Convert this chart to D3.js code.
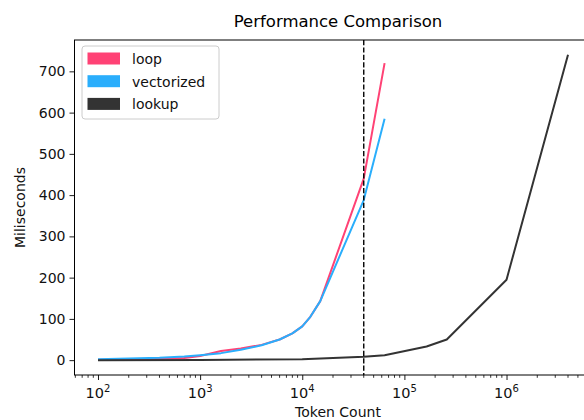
<!DOCTYPE html>
<html>
<head>
<meta charset="utf-8">
<script src="https://cdn.jsdelivr.net/npm/d3@7"></script>
<style>
  body { margin: 0; background: #fff; }
  svg { font-family: "DejaVu Sans", sans-serif; }
</style>
</head>
<body>
<svg id="chart" width="584" height="420"></svg>
<script>
// token counts and timings
const loopTokens = [100, 200, 400, 700, 1000, 1600, 2500, 4000, 6000, 8000, 10000, 12000, 15000, 40000, 64000]
const loopMs     = [1, 2, 3, 5, 10, 22, 28, 37, 50, 65, 82, 105, 143, 440, 720]

const vecTokens = [100, 200, 400, 700, 1000, 1600, 2500, 4000, 6000, 8000, 10000, 12000, 15000, 40000, 64000]
const vecMs     = [2, 4, 6, 9, 12, 17, 25, 36, 50, 65, 82, 105, 143, 388, 585]

const lookupTokens = [100, 1000, 10000, 40000, 64000, 165000, 260000, 1000000, 4000000]
const lookupMs     = [0, 0.5, 2, 8, 12, 33, 50, 195, 740]

const seriesNames = ['loop', 'vectorized', 'lookup']
const seriesColors = ['#ff4275', '#2aaefc', '#333333']
const yTicks = [0, 100, 200, 300, 400, 500, 600, 700]
const xMajor = [100, 1000, 10000, 100000, 1000000]
const cutoff = 40000

const svg = d3.select('#chart')
const mLeft = 74.5, mRight = 591.5, mTop = 40, mBottom = 375

const x = d3.scaleLog()
    .domain([Math.pow(10, 1.77), Math.pow(10, 6.832)])
    .range([mLeft, mRight])
const y = d3.scaleLinear()
    .domain([-36, 776])
    .range([mBottom, mTop])

const series = [
    {name: seriesNames[0], color: seriesColors[0], pts: loopTokens.map((t, i) => [t, loopMs[i]])},
    {name: seriesNames[1], color: seriesColors[1], pts: vecTokens.map((t, i) => [t, vecMs[i]])},
    {name: seriesNames[2], color: seriesColors[2], pts: lookupTokens.map((t, i) => [t, lookupMs[i]])}
]

svg.append('clipPath').attr('id', 'clip')
    .append('rect').attr('x', mLeft).attr('y', mTop).attr('width', mRight - mLeft).attr('height', mBottom - mTop)

const line = d3.line().x(d => x(d[0])).y(d => y(d[1]))

const plot = svg.append('g').attr('clip-path', 'url(#clip)')
series.forEach(s => {
    plot.append('path')
        .datum(s.pts)
        .attr('d', line)
        .attr('fill', 'none')
        .attr('stroke', s.color)
        .attr('stroke-width', 2)
        .attr('stroke-linejoin', 'round')
})

// cutoff marker
plot.append('line')
    .attr('x1', x(cutoff)).attr('x2', x(cutoff))
    .attr('y1', mTop).attr('y2', mBottom)
    .attr('stroke', '#000')
    .attr('stroke-width', 1.4)
    .attr('stroke-dasharray', '5.2,2.2')

// x axis (log, with minor ticks)
const xAxis = d3.axisBottom(x)
    .tickValues(xMajor)
    .tickFormat('')
    .tickSize(5)
const xg = svg.append('g').attr('transform', `translate(0,${mBottom})`).call(xAxis)
xg.select('.domain').remove()

const minor = []
for (let e = 1; e <= 6; e++) {
    for (let m = 2; m <= 9; m++) {
        const v = m * Math.pow(10, e)
        if (v >= x.domain()[0] && v <= x.domain()[1]) minor.push(v)
    }
}
xg.selectAll('.minor')
    .data(minor)
    .enter().append('line')
    .attr('class', 'minor')
    .attr('x1', d => x(d)).attr('x2', d => x(d))
    .attr('y1', 0).attr('y2', 2.8)
    .attr('stroke', '#000')
    .attr('stroke-width', 0.8)
xg.selectAll('.tick line').attr('stroke-width', 0.9)

const xl = svg.append('g')
xMajor.forEach(v => {
    const t = xl.append('text')
        .attr('x', x(v))
        .attr('y', mBottom + 23)
        .attr('text-anchor', 'middle')
        .attr('font-size', 14.5)
        .attr('fill', '#111')
    t.append('tspan').text('10')
    t.append('tspan').attr('font-size', 10).attr('dy', -6).text(Math.round(Math.log10(v)))
})

// y axis
const yAxis = d3.axisLeft(y).tickValues(yTicks).tickSize(5).tickPadding(4)
const yg = svg.append('g').attr('transform', `translate(${mLeft},0)`).call(yAxis)
yg.select('.domain').remove()
yg.selectAll('.tick text')
    .attr('font-size', 14)
    .attr('font-family', '"DejaVu Sans", sans-serif')
    .attr('fill', '#111')
yg.selectAll('.tick line').attr('stroke-width', 0.9)

// spines
svg.append('rect')
    .attr('x', mLeft).attr('y', mTop)
    .attr('width', mRight - mLeft).attr('height', mBottom - mTop)
    .attr('fill', 'none')
    .attr('stroke', '#000')
    .attr('stroke-width', 1)

// titles
svg.append('text')
    .attr('x', (mLeft + mRight) / 2 + 5)
    .attr('y', 27)
    .attr('text-anchor', 'middle')
    .attr('font-size', 16.5)
    .attr('fill', '#000')
    .text('Performance Comparison')

svg.append('text')
    .attr('x', (mLeft + mRight) / 2 + 5)
    .attr('y', 417)
    .attr('text-anchor', 'middle')
    .attr('font-size', 14)
    .attr('fill', '#111')
    .text('Token Count')

svg.append('text')
    .attr('transform', `translate(25,${(mTop + mBottom) / 2}) rotate(-90)`)
    .attr('text-anchor', 'middle')
    .attr('font-size', 14)
    .attr('fill', '#111')
    .text('Miliseconds')

// legend
const lg = svg.append('g').attr('transform', 'translate(82,46)')
lg.append('rect')
    .attr('width', 137).attr('height', 73)
    .attr('rx', 3)
    .attr('fill', 'rgba(255,255,255,0.8)')
    .attr('stroke', '#ccc')
series.forEach((s, i) => {
    lg.append('rect')
        .attr('x', 5.5).attr('y', 6.5 + i * 22.7)
        .attr('width', 32.5).attr('height', 12)
        .attr('fill', s.color)
    lg.append('text')
        .attr('x', 50).attr('y', 18 + i * 22.7)
        .attr('font-size', 14)
        .attr('fill', '#111')
        .text(s.name)
})
</script>
</body>
</html>
